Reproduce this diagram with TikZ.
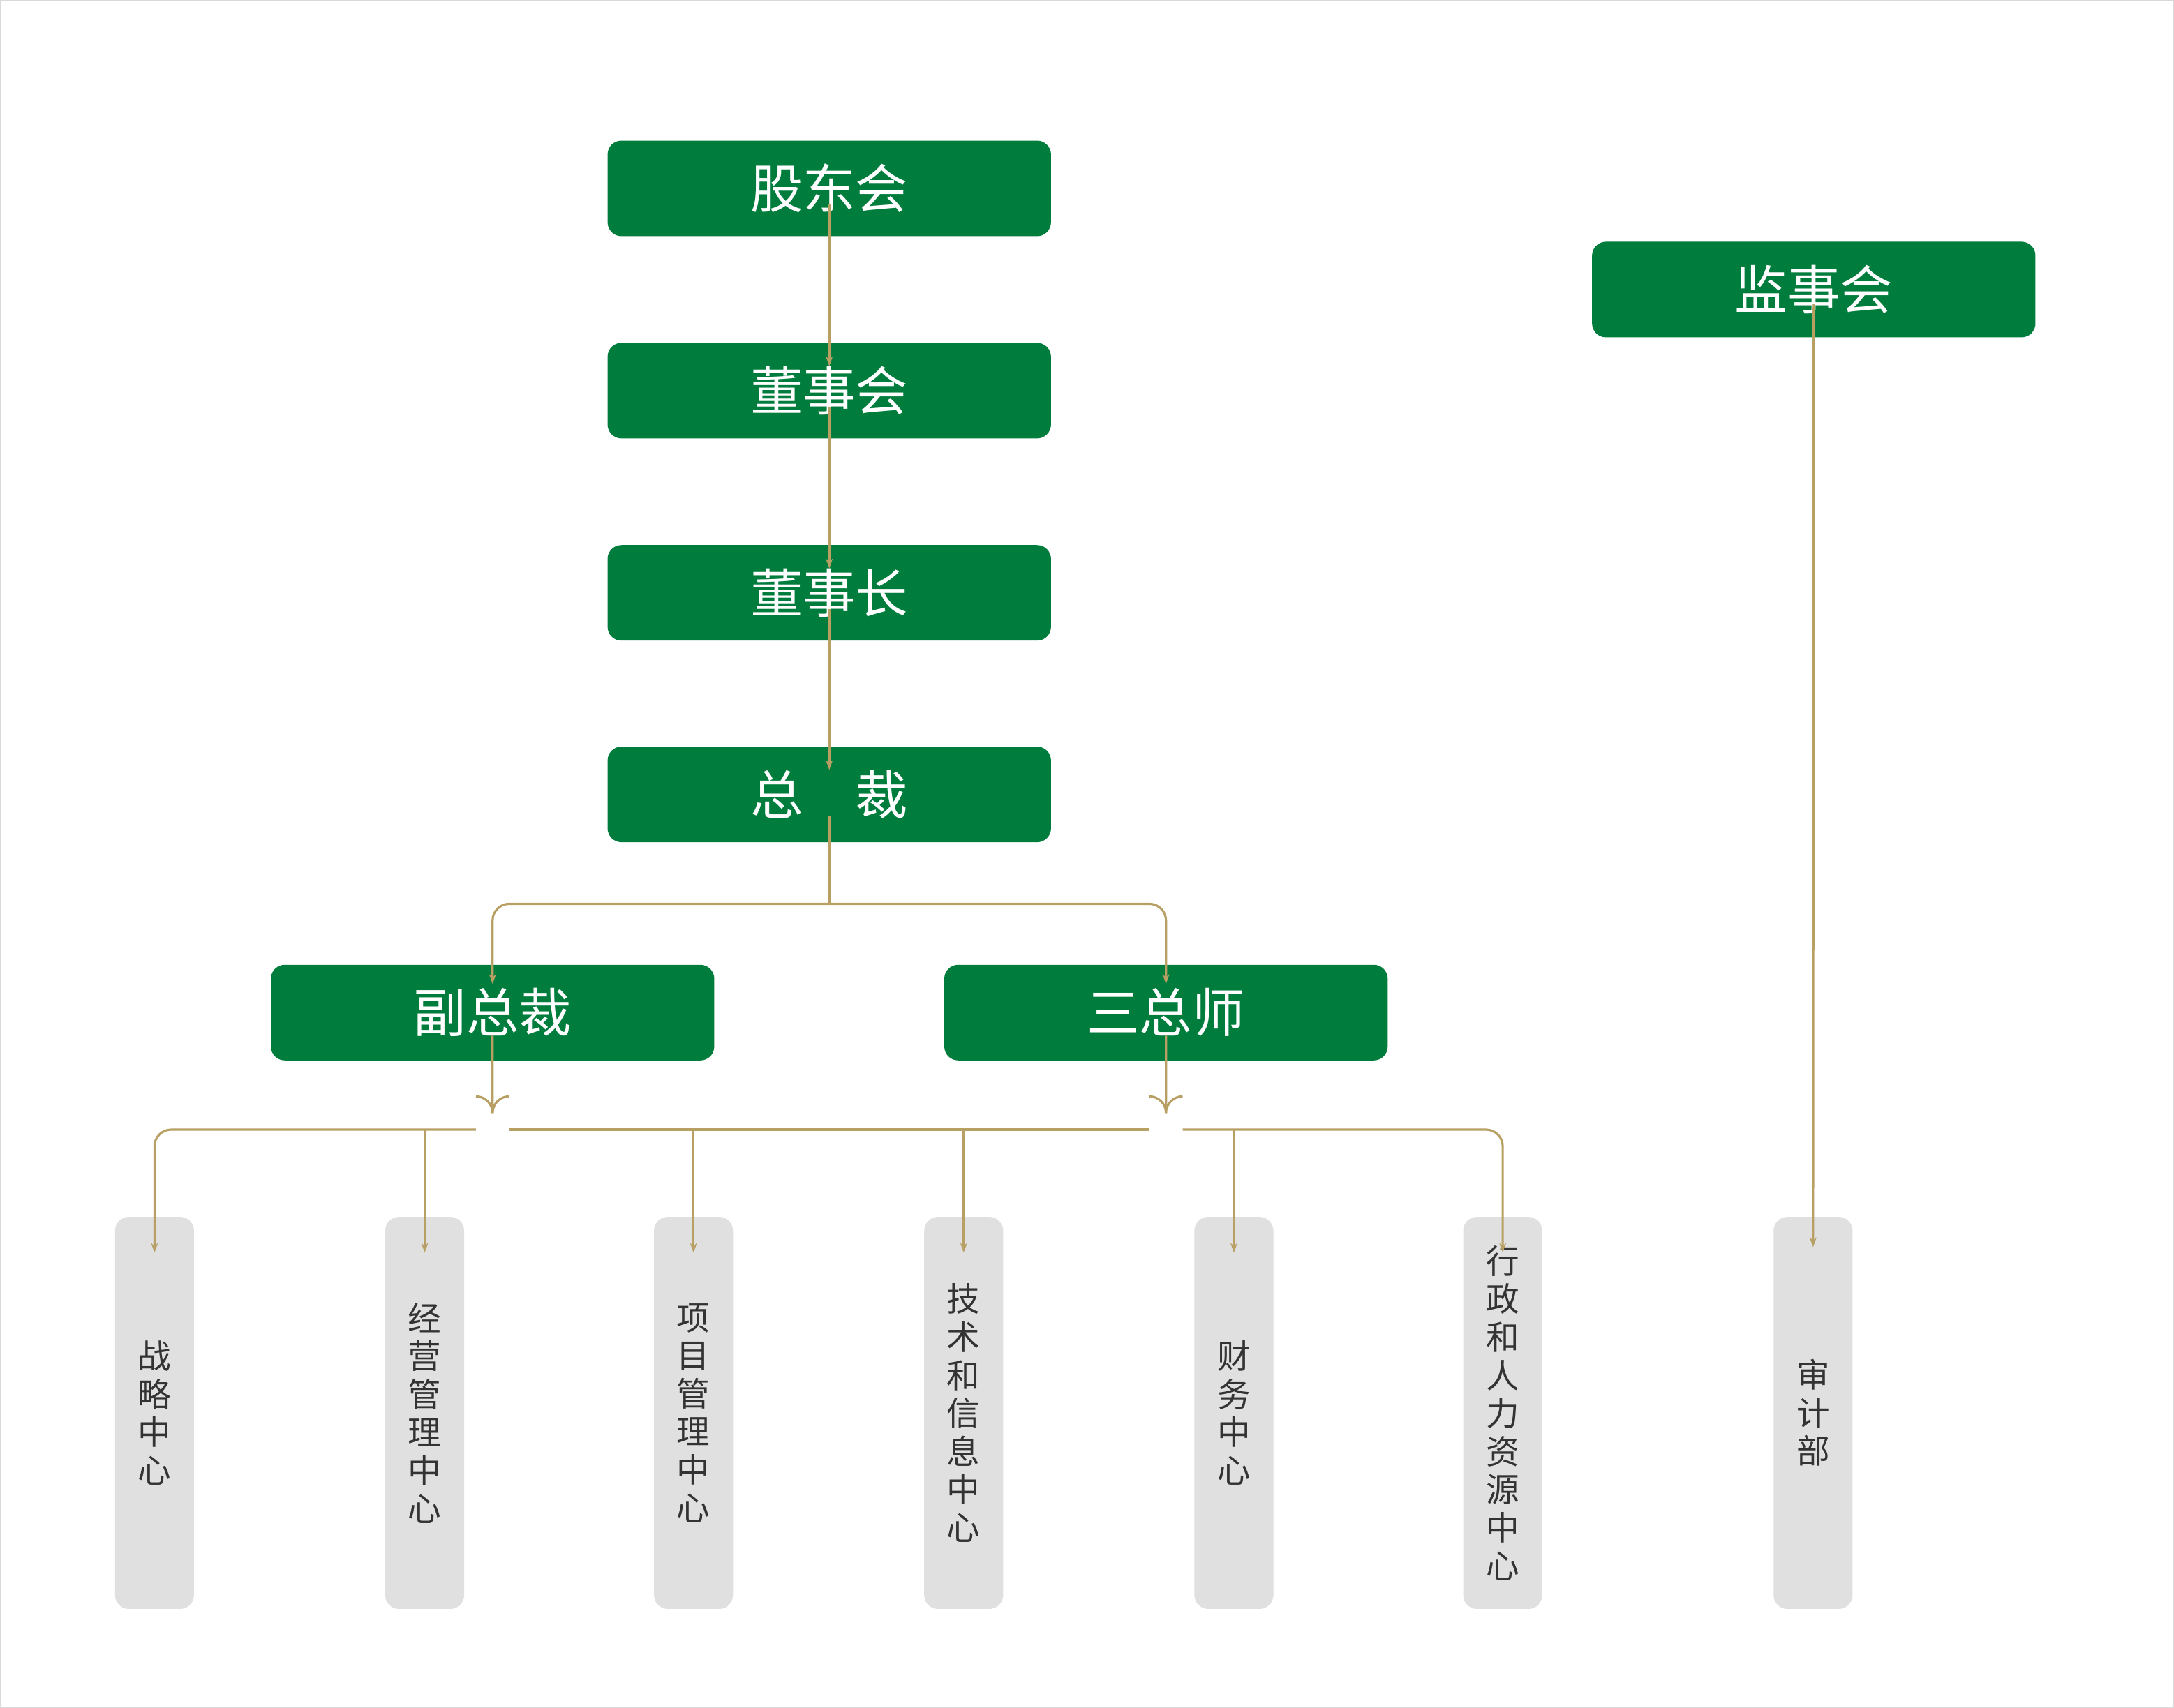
\documentclass[tikz,border=0pt]{standalone}
\usepackage{fontspec}
\newfontfamily\cjk{Noto Sans CJK SC}
\usetikzlibrary{arrows.meta}
\definecolor{grn}{RGB}{0,125,60}
\definecolor{gld}{RGB}{184,160,100}
\definecolor{gbx}{RGB}{224,224,224}
\tikzset{
 gbox/.style={draw=none,fill=grn,rounded corners=10pt,minimum width=320pt,minimum height=69pt,text=white,font=\cjk\fontsize{38}{40}\selectfont,inner sep=0pt},
 dbox/.style={draw=none,fill=gbx,rounded corners=10pt,minimum width=57pt,minimum height=283pt,text=black!80,font=\cjk\fontsize{24}{27.5}\selectfont,align=center,inner sep=0pt},
 ln/.style={draw=gld,line width=1.6pt},
 ar/.style={ln,-{Stealth[length=7pt,width=5pt]}}
}
\begin{document}
\begin{tikzpicture}[x=1pt,y=-1pt]
\draw[black!15,line width=1pt,fill=white] (0,0) rectangle (1568,1232);
\useasboundingbox (0,0) rectangle (1568,1232);
\node[gbox] (a) at (598,135.5) {股东会};
\node[gbox] (b) at (598,281.5) {董事会};
\node[gbox] (c) at (598,427.5) {董事长};
\node[gbox] (d) at (598,573) {总\hspace{1em}裁};
\node[gbox] (s) at (1308.5,208.5) {监事会};
\node[gbox] (v) at (355,730.5) {副总裁};
\node[gbox] (t) at (841,730.5) {三总师};
\node[dbox] (k1) at (111,1019.5) {战\\略\\中\\心};
\node[dbox] (k2) at (306,1019.5) {经\\营\\管\\理\\中\\心};
\node[dbox] (k3) at (500,1019.5) {项\\目\\管\\理\\中\\心};
\node[dbox] (k4) at (695,1019.5) {技\\术\\和\\信\\息\\中\\心};
\node[dbox] (k5) at (890,1019.5) {财\\务\\中\\心};
\node[dbox] (k6) at (1084,1019.5) {行\\政\\和\\人\\力\\资\\源\\中\\心};
\node[dbox] (k7) at (1308,1019.5) {审\\计\\部};
\draw[ar] ([yshift=23pt]a.south) -- ([yshift=-17pt]b.north);
\draw[ar] ([yshift=23pt]b.south) -- ([yshift=-17pt]c.north);
\draw[ar] ([yshift=23pt]c.south) -- ([yshift=-17pt]d.north);
\draw[ar] ([yshift=24pt]s.south) -- ([yshift=-22pt]k7.north);
\draw[ln] ([yshift=19pt]d.south) -- (598,652);
\draw[ar,rounded corners=12pt] (598,652) -| ([yshift=-14pt]v.north);
\draw[ar,rounded corners=12pt] (598,652) -| ([yshift=-14pt]t.north);
% lower bus
\coordinate (bv) at (355,815);
\coordinate (bt) at (841,815);
\draw[ln] ([yshift=18pt]v.south) -- (355,803) arc (0:90:-12) ;
\draw[ln] (355,803) arc (180:90:-12);
\draw[ln] ([yshift=18pt]t.south) -- (841,803) arc (0:90:-12);
\draw[ln] (841,803) arc (180:90:-12);
\draw[ln] (367,815) -- (829,815);
\draw[ar,rounded corners=12pt] (343,815) -| ([yshift=-26pt]k1.north);
\draw[ar,rounded corners=12pt] (853,815) -| ([yshift=-26pt]k6.north);
\draw[ar] (306,815) -- ([yshift=-26pt]k2.north);
\draw[ar] (500,815) -- ([yshift=-26pt]k3.north);
\draw[ar] (695,815) -- ([yshift=-26pt]k4.north);
\draw[ar] (890,815) -- ([yshift=-26pt]k5.north);
\end{tikzpicture}
\end{document}
